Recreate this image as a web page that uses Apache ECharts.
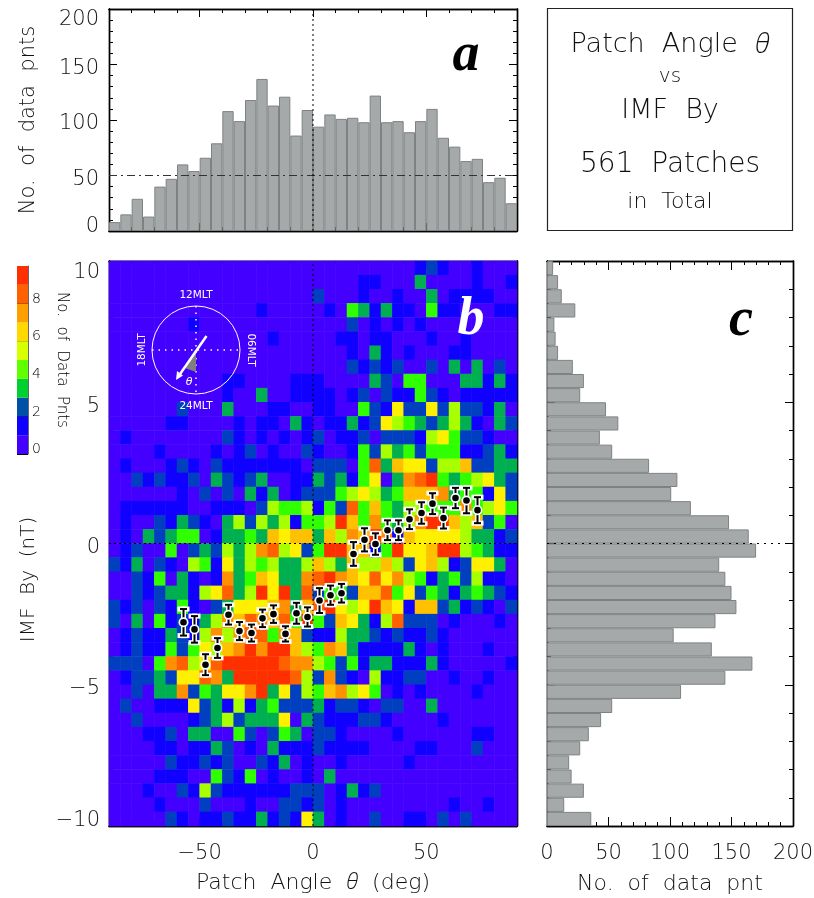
<!DOCTYPE html>
<html><head><meta charset="utf-8">
<style>html,body{margin:0;padding:0;background:#fff}#c{width:814px;height:898px}</style>
<script src="https://cdn.jsdelivr.net/npm/echarts@6/dist/echarts.min.js"></script>
</head><body><div id="c"></div>
<script>
const angleBins=[-87.5,-82.5,-77.5,-72.5,-67.5,-62.5,-57.5,-52.5,-47.5,-42.5,-37.5,-32.5,-27.5,-22.5,-17.5,-12.5,-7.5,-2.5,2.5,7.5,12.5,17.5,22.5,27.5,32.5,37.5,42.5,47.5,52.5,57.5,62.5,67.5,72.5,77.5,82.5,87.5];
const byBins=[9.75,9.25,8.75,8.25,7.75,7.25,6.75,6.25,5.75,5.25,4.75,4.25,3.75,3.25,2.75,2.25,1.75,1.25,0.75,0.25,-0.25,-0.75,-1.25,-1.75,-2.25,-2.75,-3.25,-3.75,-4.25,-4.75,-5.25,-5.75,-6.25,-6.75,-7.25,-7.75,-8.25,-8.75,-9.25,-9.75];
const histAngle=[8,15,29,13,40,47,60,54,66,79,108,99,118,137,113,121,86,109,94,105,101,102,98,122,98,99,89,99,110,84,76,63,65,44,48,25];
const histBy=[5,9,12,23,6,7,9,21,30,27,48,58,43,53,83,106,101,117,148,164,170,140,145,150,154,137,103,134,167,145,109,53,44,34,27,18,20,30,14,36];
const heatRows=[
[0,0,0,0,0,0,0,0,0,0,0,0,0,0,0,0,0,0,0,0,0,0,0,0,0,0,0,1,2,1,0,0,1,0,0,0],
[0,0,0,0,0,0,0,0,0,0,0,0,0,0,0,0,0,0,0,0,0,0,1,1,0,0,0,3,0,0,0,0,1,0,0,1],
[0,0,0,0,0,0,0,0,0,0,0,0,0,0,0,0,0,0,2,0,0,0,1,0,0,1,0,0,3,0,1,1,1,1,0,0],
[0,0,0,0,0,0,0,0,0,0,0,0,0,1,0,0,0,0,0,1,0,4,3,1,3,1,1,0,4,1,1,0,0,0,1,1],
[0,0,0,0,0,0,0,1,0,0,0,0,0,0,0,0,0,0,0,0,0,2,0,1,0,1,0,1,0,0,0,0,0,0,0,0],
[0,0,0,0,0,0,0,0,0,0,0,0,0,0,1,0,0,0,0,0,1,1,0,1,1,0,0,0,1,0,0,1,0,0,0,0],
[0,0,0,0,0,0,0,0,0,0,0,0,0,0,0,0,0,0,0,0,0,1,0,3,1,0,1,0,0,0,1,1,0,0,0,0],
[0,0,0,0,0,0,0,0,0,0,0,0,0,0,0,0,0,0,0,0,0,2,1,2,1,2,0,0,2,0,3,0,3,0,2,0],
[0,0,0,0,0,0,0,0,0,0,1,1,0,0,0,0,1,1,1,0,0,0,0,3,2,0,4,4,0,0,0,3,3,1,3,1],
[0,0,0,0,0,0,0,0,0,0,1,0,0,3,0,0,1,1,1,1,0,1,2,0,2,1,1,4,2,1,0,1,1,1,1,1],
[0,0,0,0,0,0,2,0,0,0,3,0,0,0,1,1,0,0,1,1,0,0,4,2,1,6,2,2,6,2,5,2,2,1,3,0],
[0,0,0,0,0,1,1,0,0,0,0,1,0,1,1,0,3,1,0,1,1,3,1,2,6,5,4,3,2,3,5,3,1,0,3,2],
[0,1,0,0,0,0,0,0,0,0,2,1,0,1,0,1,0,1,2,0,1,1,2,0,2,2,2,1,5,6,4,2,2,1,0,0],
[0,0,0,0,1,0,0,0,0,1,0,1,2,0,1,0,0,2,1,0,0,1,4,2,5,3,4,2,4,4,4,1,1,2,3,1],
[0,1,0,0,0,1,2,1,0,2,1,1,1,1,1,1,1,0,2,2,2,0,4,9,3,7,6,6,2,5,5,7,2,2,3,3],
[0,0,2,1,2,1,1,2,0,3,2,1,2,3,0,0,1,1,3,2,3,1,4,6,0,3,8,9,10,4,3,4,5,6,3,2],
[0,0,0,0,0,0,1,0,2,0,2,0,3,1,3,0,1,2,2,2,4,5,6,5,3,4,7,7,7,8,3,4,4,1,6,2],
[0,1,1,1,1,1,1,0,0,1,1,1,0,2,5,4,4,5,1,4,2,9,4,7,4,3,5,5,4,4,4,8,4,5,6,4],
[0,1,0,0,2,1,3,2,1,0,3,5,2,5,3,5,1,4,4,5,10,7,4,8,4,3,5,8,10,10,7,5,7,2,4,0],
[0,1,0,3,2,3,4,4,0,1,3,3,4,3,7,6,7,7,3,7,5,8,7,10,8,1,7,6,6,6,6,5,3,3,1,2],
[0,1,2,0,0,4,0,2,3,2,5,3,5,8,9,5,6,2,4,10,10,7,7,1,4,10,6,6,7,10,10,5,4,3,1,1],
[2,1,3,0,2,1,0,5,4,1,6,3,5,4,5,3,3,5,7,5,3,7,5,5,7,5,2,6,7,5,1,2,6,6,3,0],
[0,0,2,1,4,0,3,1,0,1,8,3,4,7,6,3,3,8,9,10,8,7,6,9,6,8,5,4,1,3,4,2,5,1,1,0],
[0,0,2,1,2,3,3,1,5,6,9,3,5,10,6,10,3,9,2,4,4,2,7,7,9,4,6,2,4,3,1,3,4,3,2,1],
[2,1,2,0,2,1,4,1,0,2,3,6,6,6,7,8,3,7,9,10,6,5,6,10,7,6,1,7,7,2,3,1,2,1,0,2],
[2,0,3,0,4,1,2,1,3,5,8,7,9,8,7,9,4,10,4,2,7,6,3,1,5,9,2,2,2,0,1,0,0,0,1,0],
[0,1,2,1,1,3,2,1,5,8,5,8,9,9,4,8,7,2,1,1,5,3,3,2,1,2,1,1,2,1,0,0,0,0,0,0],
[0,1,2,1,1,4,2,4,6,5,7,8,10,8,10,10,7,5,4,8,7,3,1,1,1,1,3,1,0,1,0,0,0,1,0,0],
[2,2,2,0,4,8,9,5,6,9,10,10,10,10,10,9,8,8,5,4,2,4,1,3,3,1,1,1,3,1,0,0,0,0,0,1],
[0,1,2,2,3,2,6,6,9,8,3,10,10,10,10,10,9,5,2,8,2,1,0,5,1,1,2,2,0,0,1,0,0,1,0,0],
[0,0,2,0,3,3,8,2,4,3,6,6,8,10,3,6,2,5,4,7,8,5,6,4,0,1,0,1,0,0,0,0,1,0,0,0],
[0,2,0,0,1,1,1,6,2,3,1,5,1,3,4,2,2,2,3,1,2,2,1,0,2,2,0,0,3,0,0,0,0,0,0,0],
[0,0,2,0,0,0,0,1,2,3,5,2,3,3,3,6,0,3,2,1,1,1,2,2,1,0,0,0,0,1,0,0,0,0,0,0],
[0,0,0,1,1,2,0,3,3,0,0,4,2,0,2,4,3,0,2,2,1,0,0,0,0,1,0,0,0,0,0,0,1,1,0,0],
[0,0,0,0,1,1,0,1,1,3,2,0,1,0,3,1,1,1,2,1,1,1,1,0,0,0,0,1,1,0,0,0,2,0,0,0],
[0,0,0,0,0,2,1,1,2,1,2,0,0,2,1,3,0,1,0,0,1,0,0,0,0,0,1,0,0,0,0,0,0,0,0,0],
[0,0,0,0,1,1,1,0,0,4,2,1,4,0,1,0,0,1,0,3,0,0,0,0,0,0,0,0,0,0,0,0,0,0,0,0],
[0,0,0,1,0,0,2,1,5,2,1,1,1,1,1,1,2,2,2,0,1,3,1,2,0,0,0,0,0,0,0,0,0,0,0,0],
[0,0,0,0,1,0,0,0,2,0,0,0,1,0,0,2,2,1,2,0,1,0,0,0,0,0,0,0,0,0,1,0,0,1,0,0],
[0,0,0,0,0,2,1,0,1,1,2,1,1,3,1,2,1,6,3,0,1,0,0,2,0,0,1,1,0,2,0,2,0,0,0,0]
];
const errAngle=[-57.5,-52.5,-47.5,-42.5,-37.5,-32.5,-27.5,-22.5,-17.5,-12.5,-7.5,-2.5,2.5,7.5,12.5,17.5,22.5,27.5,32.5,37.5,42.5,47.5,52.5,57.5,62.5,67.5,72.5];
const errBy=[-2.79,-3.04,-4.29,-3.70,-2.52,-3.10,-3.17,-2.65,-2.50,-3.20,-2.47,-2.60,-2.02,-1.83,-1.76,-0.37,0.13,-0.02,0.47,0.47,0.86,1.08,1.41,0.90,1.61,1.52,1.18];
const errSigma=[0.47,0.47,0.37,0.35,0.35,0.32,0.30,0.31,0.31,0.27,0.37,0.34,0.44,0.34,0.33,0.42,0.41,0.38,0.35,0.35,0.35,0.38,0.37,0.37,0.36,0.45,0.46];
const heatColors=['#4400ff','#1000ff','#0040c0','#00b050','#30ff00','#a8ff00','#fff000','#ffc000','#ff9000','#ff6000','#ff3000'];
const barColors=['#4400ff','#1000ff','#0050a8','#00d030','#60ff00','#d8ff00','#ffd800','#ffa000','#ff6000','#ff3000'];
const angleMajor=[-50,0,50];
const angleTickLabels=['−50','0','50'];
const histYLabels=[0,50,100,150,200];
const byLabels=[-10,-5,0,5,10];
const countLabels=[0,50,100,150,200];

const FONT='"DejaVu Sans"';
const THETA='"Open Sans"';
const INK='#111';
const LBL={fontFamily:FONT,fontWeight:200,fontSize:21,color:INK};
const thetaRich=(size)=>({t:{fontFamily:THETA,fontStyle:'italic',fontWeight:300,fontSize:size,color:INK}});
const line=(w)=>({show:true,onZero:false,lineStyle:{color:'#000',width:w||1.4}});

function vAxis(grid,pos,min,max,interval,len,extra){
  return Object.assign({type:'value',gridIndex:grid,position:pos,min,max,interval,scale:true,
    splitLine:{show:false},axisLine:line(),
    axisTick:{show:true,inside:true,length:len,lineStyle:{color:'#000',width:1}},
    axisLabel:{show:false},silent:true},extra||{});
}
function catAxis(grid,data,pos){
  return {type:'category',gridIndex:grid,position:pos,data,show:false,boundaryGap:true};
}
const xAxes=[],yAxes=[];
function addX(a){xAxes.push(a);return xAxes.length-1;}
function addY(a){yAxes.push(a);return yAxes.length-1;}

// --- panel a (grid 0)
const aCatX=addX(catAxis(0,angleBins,'bottom'));
const aValY0=addY(vAxis(0,'left',0,200,10,4));
const aX=addX(vAxis(0,'bottom',-90,90,10,4));
addX(vAxis(0,'top',-90,90,10,4));
addX(vAxis(0,'bottom',-90,90,10,8,{axisTick:{show:true,inside:true,length:8,customValues:angleMajor,lineStyle:{color:'#000'}}}));
addX(vAxis(0,'top',-90,90,10,8,{axisTick:{show:true,inside:true,length:8,customValues:angleMajor,lineStyle:{color:'#000'}}}));
addY(vAxis(0,'right',0,200,10,4));
addY(vAxis(0,'right',0,200,50,8));
addY(vAxis(0,'left',0,200,50,8,{
  name:'No.  of  data  pnts',nameLocation:'middle',nameGap:70,nameRotate:90,nameTextStyle:Object.assign({},LBL,{fontSize:21}),
  axisLabel:{show:true,margin:10,customValues:histYLabels,
    formatter:v=>v===0?'{z|0}':v===200?'{m|200}':'{n|'+v+'}',
    rich:{z:Object.assign({},LBL,{padding:[0,0,8,0]}),m:Object.assign({},LBL,{padding:[21,0,0,0]}),n:Object.assign({},LBL,{padding:[8,0,0,0]})}}}));

// --- panel b (grid 1)
const bCatX=addX(catAxis(1,angleBins,'bottom'));
const bCatY=addY(catAxis(1,byBins.slice().reverse(),'left'));
const bX=addX(vAxis(1,'bottom',-90,90,10,4));
addX(vAxis(1,'top',-90,90,10,4));
addX(vAxis(1,'top',-90,90,10,8,{axisTick:{show:true,inside:true,length:8,customValues:angleMajor,lineStyle:{color:'#000'}}}));
addX(vAxis(1,'bottom',-90,90,10,8,{
  name:'{n|Patch  Angle  }{t|θ}{n|  (deg)}',nameLocation:'middle',nameGap:46,
  nameTextStyle:{rich:Object.assign({n:Object.assign({},LBL,{fontSize:22})},thetaRich(22))},
  axisTick:{show:true,inside:true,length:8,customValues:angleMajor,lineStyle:{color:'#000'}},
  axisLabel:{show:true,margin:17,customValues:angleMajor,fontFamily:FONT,fontWeight:200,fontSize:21,color:INK,
    formatter:v=>angleTickLabels[angleMajor.indexOf(v)]}}));
const bY=addY(vAxis(1,'left',-10,10,1,4));
addY(vAxis(1,'right',-10,10,1,4));
addY(vAxis(1,'right',-10,10,5,8));
addY(vAxis(1,'left',-10,10,5,8,{
  name:'IMF  By  (nT)',nameLocation:'middle',nameGap:70,nameRotate:90,
  nameTextStyle:Object.assign({},LBL,{fontSize:20,padding:[0,72,0,0]}),
  axisLabel:{show:true,margin:9,customValues:byLabels,
    formatter:v=>v===10?'{m|10}':v===-10?'{z|−10}':'{n|'+(v<0?'−'+(-v):v)+'}',
    rich:{m:Object.assign({},LBL,{padding:[24,0,0,0]}),z:Object.assign({},LBL,{padding:[0,0,10,0]}),n:Object.assign({},LBL,{padding:[8,0,0,0]})}}}));

// --- panel c (grid 2)
const cCatY=addY(catAxis(2,byBins.slice().reverse(),'left'));
const cX=addX(vAxis(2,'bottom',0,200,10,4));
addX(vAxis(2,'top',0,200,10,4));
addX(vAxis(2,'top',0,200,50,9));
addX(vAxis(2,'bottom',0,200,50,9,{
  name:'No.  of  data  pnt',nameLocation:'middle',nameGap:47,nameTextStyle:Object.assign({},LBL,{fontSize:22}),
  axisLabel:{show:true,margin:17,customValues:countLabels,fontFamily:FONT,fontWeight:200,fontSize:21,color:INK}}));
const cY=addY(vAxis(2,'left',-10,10,1,4));
addY(vAxis(2,'right',-10,10,1,4));
addY(vAxis(2,'left',-10,10,5,8));
addY(vAxis(2,'right',-10,10,5,8));

// --- colour bar (grid 3)
const kX=addX(catAxis(3,['levels'],'bottom'));
const kY=addY(vAxis(3,'right',0,10,2,11,{
  axisLine:{show:true,onZero:false,lineStyle:{color:'#666',width:1}},
  name:'No.  of  Data  Pnts',nameLocation:'middle',nameGap:26,nameRotate:-90,
  nameTextStyle:{fontFamily:FONT,fontWeight:200,fontSize:15,color:'#000'},
  axisLabel:{show:true,margin:4,formatter:v=>v<10?'{k|'+v+'}':'',
    rich:{k:{fontFamily:FONT,fontWeight:200,fontSize:14,color:'#000',padding:[0,0,9,0]}}}}));

const heatData=[];
heatRows.forEach((row,j)=>row.forEach((v,i)=>heatData.push([i,39-j,v])));

const GREY='#a6a9a9',EDGE='#7e8282';
const series=[
  {type:'bar',name:'angle histogram',xAxisIndex:aCatX,yAxisIndex:aValY0,data:histAngle,barWidth:'100%',silent:true,
    itemStyle:{color:GREY,borderColor:EDGE,borderWidth:1}},
  {type:'line',xAxisIndex:aX,yAxisIndex:aValY0,data:[[-90,50],[90,50]],symbol:'none',silent:true,
    lineStyle:{color:'#333',width:1,type:[8,4,2,4]},z:5},
  {type:'line',xAxisIndex:aX,yAxisIndex:aValY0,data:[[0,0],[0,200]],symbol:'none',silent:true,
    lineStyle:{color:'#000',width:1,type:[2,3]},z:5},
  {type:'heatmap',name:'counts',xAxisIndex:bCatX,yAxisIndex:bCatY,data:heatData,silent:true,emphasis:{disabled:true},progressive:0},
  {type:'line',xAxisIndex:bX,yAxisIndex:bY,data:[[0,-10],[0,10]],symbol:'none',silent:true,
    lineStyle:{color:'#000',width:1,type:[2,3]},z:5},
  {type:'line',xAxisIndex:bX,yAxisIndex:bY,data:[[-90,0],[90,0]],symbol:'none',silent:true,
    lineStyle:{color:'#000',width:1,type:[2,3]},z:5},
  {type:'custom',name:'mean By',xAxisIndex:bX,yAxisIndex:bY,z:8,silent:true,clip:false,
    data:errAngle.map((a,i)=>[a,errBy[i],errSigma[i]]),
    renderItem:(p,api)=>{
      const c=api.coord([api.value(0),api.value(1)]);
      const t=api.coord([api.value(0),api.value(1)+api.value(2)]);
      const b=api.coord([api.value(0),api.value(1)-api.value(2)]);
      const X=Math.round(c[0])+0.5, w={stroke:'#fff',lineWidth:5,lineCap:'square'}, k={stroke:'#000',lineWidth:2};
      const seg=(x1,y1,x2,y2,s)=>({type:'line',shape:{x1,y1,x2,y2},style:s});
      return {type:'group',children:[
        seg(X,t[1],X,b[1],w),seg(X-3.5,t[1],X+3.5,t[1],w),seg(X-3.5,b[1],X+3.5,b[1],w),
        seg(X,t[1],X,b[1],k),seg(X-3.5,t[1],X+3.5,t[1],k),seg(X-3.5,b[1],X+3.5,b[1],k),
        {type:'circle',shape:{cx:X,cy:c[1],r:5},style:{fill:'#fff'}},
        {type:'circle',shape:{cx:X,cy:c[1],r:3.3},style:{fill:'#000'}}
      ]};
    }},
  {type:'bar',name:'By histogram',xAxisIndex:cX,yAxisIndex:cCatY,data:histBy.slice().reverse(),barWidth:'100%',silent:true,
    itemStyle:{color:GREY,borderColor:EDGE,borderWidth:1}},
  {type:'line',xAxisIndex:cX,yAxisIndex:cY,data:[[0,0],[200,0]],symbol:'none',silent:true,
    lineStyle:{color:'#000',width:1,type:[2,5]},z:5}
];
barColors.forEach((col,i)=>series.push({type:'bar',stack:'key',xAxisIndex:kX,yAxisIndex:kY,data:[1],barWidth:'100%',silent:true,itemStyle:{color:col}}));
const heatIndex=3;

const CX=196,CY=350,R=44;
const W='#fff';
const txt=(text,x,y,size,extra)=>Object.assign({type:'text',x,y,z:50,silent:true,style:{text,textAlign:'center',textVerticalAlign:'middle',font:'200 '+size+'px '+FONT,fill:INK}},extra||{});
const wtxt=(text,x,y,rot)=>({type:'text',x,y,rotation:rot||0,z:50,silent:true,style:{text,textAlign:'center',textVerticalAlign:'middle',font:'10.5px "DejaVu Sans"',fill:W}});
const LETTER='italic bold 54px "Liberation Serif"';
const graphics=[
  {type:'rect',silent:true,shape:{x:547.5,y:8.5,width:245,height:222},style:{fill:'none',stroke:'#222',lineWidth:1.2}},
  {type:'text',x:670,y:45,z:50,silent:true,style:{text:'{n|Patch  Angle  }{t|θ}',textAlign:'center',textVerticalAlign:'middle',
    rich:{n:{font:'200 27px '+FONT,fill:INK},t:{font:'italic 300 27px '+THETA,fill:INK}}}},
  txt('vs',670,77,20),
  txt('IMF  By',670,111,27),
  txt('561  Patches',670,165,28),
  txt('in  Total',670,202,22),
  {type:'text',x:466,y:56,z:50,silent:true,style:{text:'a',textAlign:'center',textVerticalAlign:'middle',font:LETTER,fill:'#000'}},
  {type:'text',x:471,y:320,z:50,silent:true,style:{text:'b',textAlign:'center',textVerticalAlign:'middle',font:LETTER,fill:'#fff'}},
  {type:'text',x:741,y:321,z:50,silent:true,style:{text:'c',textAlign:'center',textVerticalAlign:'middle',font:LETTER,fill:'#000'}},
  {type:'circle',z:40,silent:true,shape:{cx:CX,cy:CY,r:R},style:{fill:'none',stroke:W,lineWidth:1}},
  {type:'line',z:40,silent:true,shape:{x1:CX-R,y1:CY,x2:CX+R,y2:CY},style:{stroke:W,lineWidth:1.5,lineDash:[1.5,5]}},
  {type:'line',z:40,silent:true,shape:{x1:CX,y1:CY-R,x2:CX,y2:CY+R},style:{stroke:W,lineWidth:1.5,lineDash:[1.5,5]}},
  {type:'polygon',z:41,silent:true,shape:{points:[[CX,CY],[CX,CY+22],[CX-11,CY+18]]},style:{fill:'#808080'}},
  {type:'line',z:42,silent:true,shape:{x1:206.5,y1:336,x2:178,y2:377},style:{stroke:W,lineWidth:2.5}},
  {type:'polygon',z:42,silent:true,shape:{points:[[176,380],[177,371],[183,375.5]]},style:{fill:W}},
  {type:'text',x:189,y:382,z:42,silent:true,style:{text:'θ',textAlign:'center',textVerticalAlign:'middle',font:'italic 11px "DejaVu Sans"',fill:W}},
  wtxt('12MLT',196,295),
  wtxt('24MLT',196,406),
  wtxt('18MLT',142,350,Math.PI/2),
  wtxt('06MLT',250.5,350,-Math.PI/2)
];

const chart=echarts.init(document.getElementById('c'),null,{renderer:'canvas'});
chart.setOption({
  animation:false,backgroundColor:'#fff',
  grid:[
    {left:109,top:9,width:408,height:222,outerBoundsMode:'none'},
    {left:109,top:261,width:408,height:565,outerBoundsMode:'none'},
    {left:547,top:261,width:246,height:565,outerBoundsMode:'none'},
    {left:17,top:266,width:11,height:188,outerBoundsMode:'none'}
  ],
  xAxis:xAxes,yAxis:yAxes,
  visualMap:{type:'piecewise',show:false,seriesIndex:heatIndex,dimension:2,
    pieces:heatColors.map((c,i)=>({value:i,color:c}))},
  series,graphic:graphics
});
</script></body></html>
